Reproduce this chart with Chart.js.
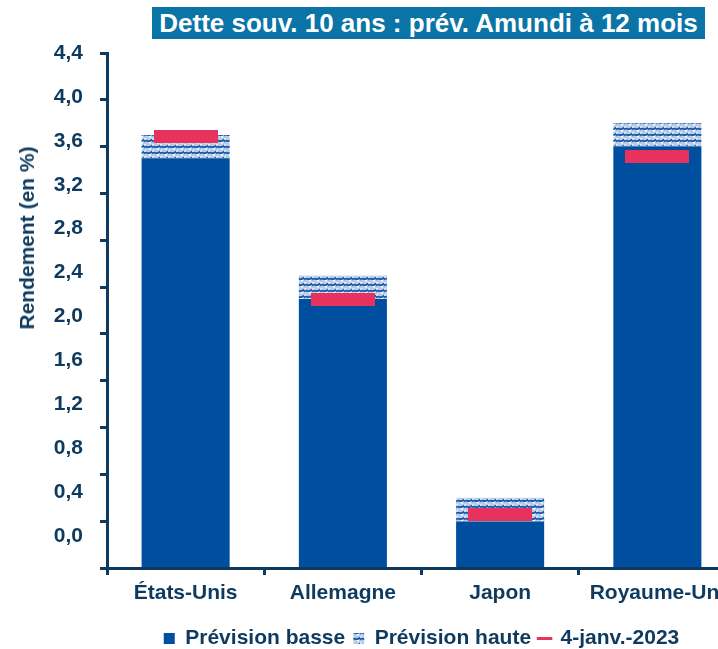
<!DOCTYPE html>
<html>
<head>
<meta charset="utf-8">
<script src="https://cdn.jsdelivr.net/npm/chart.js@4.4.0/dist/chart.umd.min.js"></script>
<style>
  html, body { margin: 0; padding: 0; background: #fff; overflow: hidden; }
  #wrap { position: relative; width: 760px; height: 649px; }
  #title {
    position: absolute; left: 152px; top: 7px; width: 553px; height: 32px;
    background: #0a74a6; color: #fff; text-align: center; white-space: nowrap;
    font: bold 26px "Liberation Sans", Arial, sans-serif; line-height: 32px;
  }
  #ytitle {
    position: absolute; left: 27px; top: 238px; white-space: nowrap;
    transform: translate(-50%, -50%) rotate(-90deg);
    color: #0d3a5e; font: bold 21px "Liberation Sans", Arial, sans-serif;
  }
</style>
</head>
<body>
<div id="wrap">
  <canvas id="chart" width="760" height="649"></canvas>
  <div id="title">Dette souv. 10 ans : prév. Amundi à 12 mois</div>
  <div id="ytitle">Rendement (en %)</div>
</div>
<script>
// values
const countries = ['États-Unis', 'Allemagne', 'Japon', 'Royaume-Uni'];
const lowForecast = [3.5, 2.3, 0.4, 3.6];    // Prévision basse
const highForecast = [3.7, 2.5, 0.6, 3.8];   // Prévision haute
const yield4Jan2023 = [3.69, 2.29, 0.46, 3.52];
const yTickValues = [0, 0.4, 0.8, 1.2, 1.6, 2.0, 2.4, 2.8, 3.2, 3.6, 4.0, 4.4];

const navy = '#0d3a5e';
const blue = '#004f9f';
const red = '#e6325c';
const font = '"Liberation Sans", Arial, sans-serif';

// small wavy tile for the "haute" range
function makeHatch() {
  const c = document.createElement('canvas');
  c.width = 8; c.height = 6;
  const g = c.getContext('2d');
  g.fillStyle = '#b7cdea';
  g.fillRect(0, 0, 8, 6);
  g.strokeStyle = '#1b58a4';
  g.lineWidth = 1.8;
  g.beginPath();
  g.moveTo(-1, 4.5);
  g.bezierCurveTo(2, -0.5, 4, 6.5, 9, 1);
  g.stroke();
  g.fillStyle = '#ffffff';
  g.fillRect(5, 4, 2, 1.5);
  g.fillRect(0.5, 0.3, 1.5, 1.2);
  return g.createPattern(c, 'repeat');
}
const hatch = makeHatch();

// red dash used as point marker (drawn at its own size, keeps layout padding small)
function makeDash() {
  const c = document.createElement('canvas');
  c.width = 64; c.height = 13;
  const g = c.getContext('2d');
  g.fillStyle = red;
  g.fillRect(0, 0, 64, 13);
  return c;
}
const dash = makeDash();

const fmt = v => v.toFixed(1).replace('.', ',');

new Chart(document.getElementById('chart'), {
  type: 'bar',
  data: {
    labels: countries,
    datasets: [
      {
        label: 'Prévision basse',
        data: lowForecast,
        backgroundColor: blue,
        yAxisID: 'y',
        grouped: false,
        categoryPercentage: 1,
        barPercentage: 0.56,
        order: 2
      },
      {
        label: 'Prévision haute',
        data: lowForecast.map((v, i) => [v, highForecast[i]]),
        backgroundColor: hatch,
        yAxisID: 'y',
        grouped: false,
        categoryPercentage: 1,
        barPercentage: 0.56,
        order: 1
      },
      {
        type: 'line',
        label: '4-janv.-2023',
        data: yield4Jan2023,
        yAxisID: 'y',
        showLine: false,
        pointStyle: dash,
        pointRadius: 3,
        pointHoverRadius: 3,
        pointBorderWidth: 0,
        borderColor: red,
        backgroundColor: red,
        order: 0
      }
    ]
  },
  options: {
    responsive: false,
    animation: false,
    layout: { padding: { left: 40, right: 24, top: 53, bottom: -10 } },
    plugins: {
      tooltip: { enabled: false },
      legend: {
        position: 'bottom',
        fullSize: false,
        labels: {
          usePointStyle: true,
          boxWidth: 11,
          boxHeight: 11,
          padding: 8,
          color: navy,
          font: { family: font, size: 21, weight: 'bold' },
          generateLabels: chart => chart.data.datasets.map((ds, i) => ({
            text: ds.label,
            datasetIndex: i,
            hidden: false,
            fontColor: navy,
            pointStyle: i === 2 ? 'line' : 'rect',
            fillStyle: i === 0 ? blue : i === 1 ? hatch : red,
            strokeStyle: red,
            lineWidth: i === 2 ? 3 : 0
          }))
        }
      }
    },
    scales: {
      x: {
        offset: true,
        grid: { offset: true, drawOnChartArea: false, drawTicks: true, tickLength: 7, tickWidth: 3, color: navy },
        border: { color: navy, width: 3, z: 1 },
        ticks: { color: navy, padding: 6, font: { family: font, size: 21, weight: 'bold' } },
        // the last label runs off the page in the reference, so no extra side padding
        afterFit: s => { s.height = 52; s.paddingLeft = 0; s.paddingRight = 0; }
      },
      y: {
        position: 'left',
        weight: 0,
        min: 0,
        max: 4.4,
        grid: { drawOnChartArea: false, drawTicks: true, tickLength: 7, tickWidth: 3, color: navy },
        border: { color: navy, width: 3 },
        ticks: { display: false },
        afterBuildTicks: a => { a.ticks = yTickValues.map(v => ({ value: v })); },
        afterFit: s => { s.width = 7; }
      },
      // label column: the reference draws its labels slightly compressed
      yLabels: {
        position: 'left',
        weight: 1,
        min: -0.29,
        max: 4.4,
        grid: { display: false, drawTicks: false },
        border: { display: false },
        ticks: {
          color: navy, padding: 17,
          font: { family: font, size: 21, weight: 'bold' },
          callback: v => fmt(v)
        },
        afterBuildTicks: a => { a.ticks = yTickValues.map(v => ({ value: v })); },
        afterFit: s => { s.width = 60; }
      }
    }
  }
});
</script>
</body>
</html>
